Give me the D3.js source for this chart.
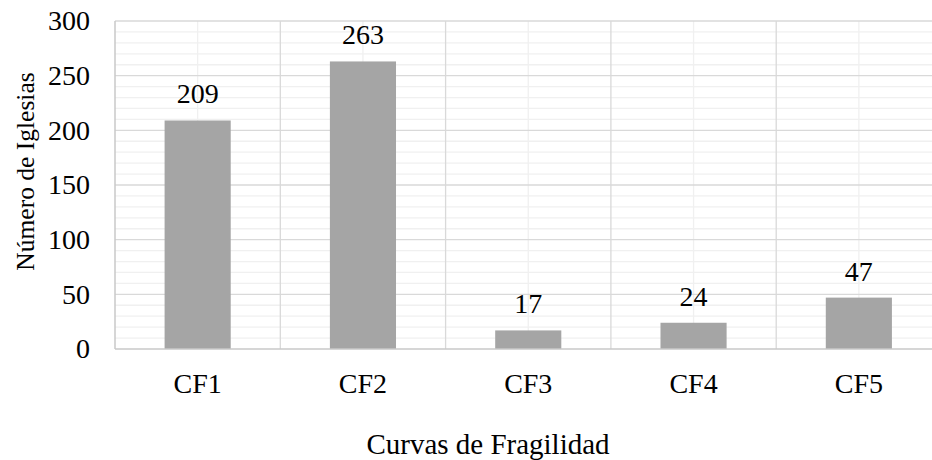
<!DOCTYPE html>
<html>
<head>
<meta charset="utf-8">
<script src="https://cdn.jsdelivr.net/npm/d3@7"></script>
<style>
  html, body { margin: 0; padding: 0; background: #fff; }
  svg { display: block; }
</style>
</head>
<body>
<script>
// Number of churches per fragility curve
const categories = ["CF1", "CF2", "CF3", "CF4", "CF5"];
const counts = [209, 263, 17, 24, 47];
const yTicks = [0, 50, 100, 150, 200, 250, 300];
const xTitle = "Curvas de Fragilidad";
const yTitle = "Número de Iglesias";

const W = 932, H = 460;
const FONT = "'Liberation Serif'";
const FS = 28;
const plot = { left: 115, top: 21, bottom: 349, step: 165.3 };

const svg = d3.select("body").append("svg")
  .attr("width", W).attr("height", H)
  .style("font-family", FONT);
svg.append("rect").attr("width", W).attr("height", H).attr("fill", "#fff");

const x = d3.scaleBand()
  .domain(categories)
  .range([plot.left, plot.left + plot.step * categories.length])
  .paddingInner(0.6)
  .paddingOuter(0.3);

const y = d3.scaleLinear().domain([0, 300]).range([plot.bottom, plot.top]);

const grid = svg.append("g");
const xRight = plot.left + plot.step * categories.length;

// minor horizontal gridlines every 10
grid.selectAll(".hminor")
  .data(d3.range(10, 300, 10).filter(v => v % 50 !== 0))
  .join("line")
  .attr("x1", plot.left).attr("x2", xRight)
  .attr("y1", d => y(d)).attr("y2", d => y(d))
  .attr("stroke", "#f0f0f0").attr("stroke-width", 1.3);

// minor vertical gridlines at category centers
grid.selectAll(".vminor")
  .data(categories)
  .join("line")
  .attr("x1", d => x(d) + x.bandwidth() / 2).attr("x2", d => x(d) + x.bandwidth() / 2)
  .attr("y1", plot.top).attr("y2", plot.bottom)
  .attr("stroke", "#f0f0f0").attr("stroke-width", 1.3);

// major horizontal gridlines
grid.selectAll(".hmajor")
  .data(yTicks.filter(v => v > 0))
  .join("line")
  .attr("x1", plot.left).attr("x2", xRight)
  .attr("y1", d => y(d)).attr("y2", d => y(d))
  .attr("stroke", "#d9d9d9").attr("stroke-width", 1.3);

// major vertical gridlines at category boundaries
grid.selectAll(".vmajor")
  .data(categories.slice(1))
  .join("line")
  .attr("x1", d => x(d) - x.step() * x.paddingInner() / 2)
  .attr("x2", d => x(d) - x.step() * x.paddingInner() / 2)
  .attr("y1", plot.top).attr("y2", plot.bottom)
  .attr("stroke", "#d9d9d9").attr("stroke-width", 1.3);

// bars
svg.append("g").selectAll("rect")
  .data(categories)
  .join("rect")
  .attr("x", d => x(d))
  .attr("width", x.bandwidth())
  .attr("y", (d, i) => y(counts[i]))
  .attr("height", (d, i) => y(0) - y(counts[i]))
  .attr("fill", "#a5a5a5");

// axis lines
svg.append("line")
  .attr("x1", plot.left).attr("x2", plot.left)
  .attr("y1", plot.top).attr("y2", plot.bottom)
  .attr("stroke", "#c8c8c8").attr("stroke-width", 1.5);
svg.append("line")
  .attr("x1", plot.left).attr("x2", xRight)
  .attr("y1", plot.bottom).attr("y2", plot.bottom)
  .attr("stroke", "#c8c8c8").attr("stroke-width", 1.5);

// y tick labels
const yAxis = d3.axisLeft(y).tickValues(yTicks).tickSize(0).tickPadding(0);
const yg = svg.append("g").attr("transform", "translate(90,0)").call(yAxis);
yg.attr("font-family", null).attr("font-size", null);
yg.select(".domain").remove();
yg.selectAll("text")
  .style("font-family", FONT)
  .style("font-size", FS + "px")
  .attr("fill", "#000");

// x tick labels
const xAxis = d3.axisBottom(x).tickSize(0).tickPadding(0);
const xg = svg.append("g").attr("transform", "translate(0,373)").call(xAxis);
xg.attr("font-family", null).attr("font-size", null);
xg.select(".domain").remove();
xg.selectAll("text")
  .style("font-family", FONT)
  .style("font-size", FS + "px")
  .attr("fill", "#000")
  .attr("dy", "0.71em");

// value labels
svg.append("g").selectAll("text")
  .data(categories)
  .join("text")
  .attr("x", d => x(d) + x.bandwidth() / 2)
  .attr("y", (d, i) => y(counts[i]) - 17)
  .attr("text-anchor", "middle")
  .style("font-family", FONT)
  .style("font-size", FS + "px")
  .attr("fill", "#000")
  .text((d, i) => counts[i]);

// axis titles
svg.append("text")
  .attr("x", 488).attr("y", 454)
  .attr("text-anchor", "middle")
  .style("font-family", FONT)
  .style("font-size", "29px")
  .attr("fill", "#000")
  .text(xTitle);

svg.append("text")
  .attr("transform", "translate(34,171.5) rotate(-90)")
  .attr("text-anchor", "middle")
  .style("font-family", FONT)
  .style("font-size", "25.5px")
  .attr("fill", "#000")
  .text(yTitle);
</script>
</body>
</html>
